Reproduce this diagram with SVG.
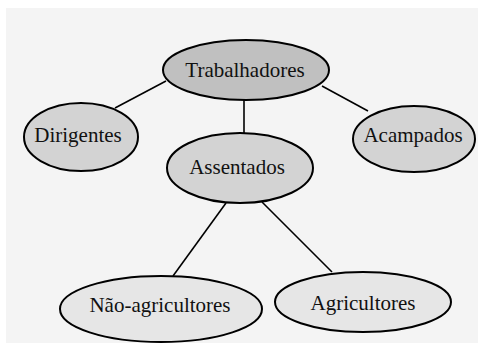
<svg xmlns="http://www.w3.org/2000/svg" width="478" height="354" viewBox="0 0 478 354">
<style>
.n{stroke:#000;stroke-width:2}
.d{fill:#c0c0c0}.m{fill:#d3d3d3}.l{fill:#e6e6e6}
.t{font-family:"Liberation Serif","Times New Roman",serif;font-size:21px;text-anchor:middle;fill:#111}
.c line{stroke:#000;stroke-width:1.6}
</style>
<rect width="478" height="354" fill="#fff"/>
<rect x="6" y="8" width="472" height="335" fill="#f4f4f4"/>
<g class="c" id="connectors">
<line x1="166" y1="81" x2="115" y2="108"/>
<line x1="244" y1="100" x2="244" y2="135"/>
<line x1="322" y1="86" x2="368" y2="111"/>
<line x1="226" y1="203" x2="173" y2="276"/>
<line x1="262" y1="202" x2="332" y2="272"/>
</g>
<g id="trabalhadores"><ellipse class="n d" cx="246" cy="70" rx="83" ry="30"/><text class="t" x="245" y="77">Trabalhadores</text></g>
<g id="dirigentes"><ellipse class="n m" cx="81" cy="137" rx="57" ry="34"/><text class="t" x="78" y="142">Dirigentes</text></g>
<g id="acampados"><ellipse class="n m" cx="414" cy="139" rx="61" ry="33"/><text class="t" x="413" y="142">Acampados</text></g>
<g id="assentados"><ellipse class="n m" cx="240" cy="168" rx="73" ry="35"/><text class="t" x="237" y="174">Assentados</text></g>
<g id="nao-agricultores"><ellipse class="n l" cx="161" cy="309" rx="101" ry="33"/><text class="t" x="160" y="312">Não-agricultores</text></g>
<g id="agricultores"><ellipse class="n l" cx="363" cy="302" rx="88" ry="30"/><text class="t" x="363" y="310">Agricultores</text></g>
</svg>
